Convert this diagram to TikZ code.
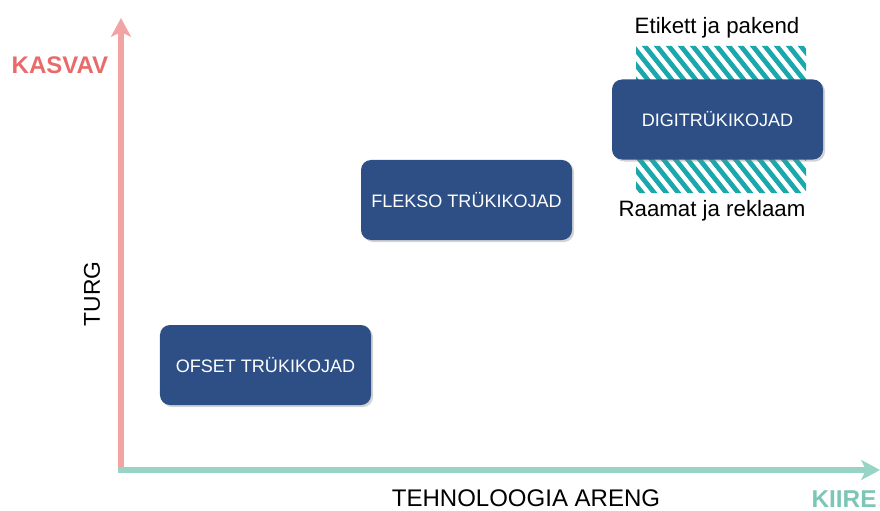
\documentclass[tikz,border=0pt]{standalone}
\usepackage{fontspec}
\setmainfont{Liberation Sans}
\usetikzlibrary{arrows.meta,shadows}

\definecolor{boxblue}{HTML}{2D4F86}
\definecolor{axisred}{HTML}{F2A3A3}
\definecolor{axisteal}{HTML}{98D4C5}
\definecolor{labelred}{HTML}{E86A6A}
\definecolor{labelteal}{HTML}{7CC6B6}
\definecolor{hatchteal}{HTML}{1BA8AC}

\tikzset{
  marketbox/.style={rounded corners=0.3cm, fill=boxblue, text=white,
    minimum width=6.33cm, minimum height=2.4cm, inner sep=0pt,
    font=\fontsize{15.4}{17}\selectfont,
    drop shadow={shadow xshift=0.06cm, shadow yshift=-0.06cm, opacity=0.35}},
  axislabel/.style={font=\fontsize{20.5}{23}\selectfont},
  sidelabel/.style={font=\fontsize{19}{21}\selectfont}
}

\begin{document}
\begin{tikzpicture}[x=0.03cm, y=-0.03cm]

        \useasboundingbox (0,0) rectangle (880,511);

        %Axes
        \coordinate (origin) at (121,470);
        \coordinate (ytip)   at (121,18);
        \coordinate (xtip)   at (880,470);
        \draw [axisred, line width=4.5pt, -{Stealth[inset=4pt,length=16pt,width=17pt]}] (origin) -- (ytip);
        \draw [axisteal, line width=4.5pt, -{Stealth[inset=4pt,length=16pt,width=17pt]}] ([xshift=-2.2pt]origin) -- (xtip);

        %Axis labels
        \node [axislabel, font=\fontsize{20.5}{23}\bfseries, text=labelred] (kasvav) at (60,65) {KASVAV};
        \node [axislabel, font=\fontsize{19.5}{22}\selectfont, rotate=90] (turg) at (92,294) {TURG};
        \node [axislabel] (areng) at (526,498) {TEHNOLOOGIA ARENG};
        \node [axislabel, font=\fontsize{20.8}{23}\bfseries, text=labelteal] (kiire) at (844,499) {KIIRE};

        %Hatching behind digital box
        \begin{scope}
          \clip (636,46) rectangle (806,84) (636,155) rectangle (806,193);
          \foreach \x in {480,492,...,810}
            \draw [hatchteal, line width=4pt, line cap=round] (\x,35) -- (\x+132,200);
        \end{scope}

        %Printing houses
        \node [marketbox] (ofset)  at (265.5,365) {OFSET TRÜKIKOJAD};
        \node [marketbox] (flekso) at (466.5,200) {FLEKSO TRÜKIKOJAD};
        \node [marketbox] (digi)   at (717.5,119.5) {DIGITRÜKIKOJAD};

        %Segments
        \node [sidelabel] (etikett) at (717,28)  {Etikett ja pakend};
        \node [sidelabel] (raamat)  at (712,211) {Raamat ja reklaam};

\end{tikzpicture}
\end{document}
